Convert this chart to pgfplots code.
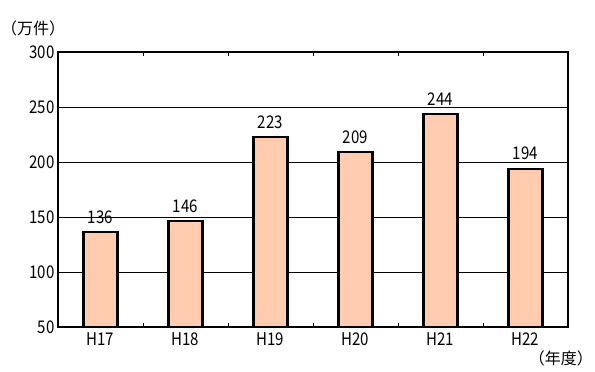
\documentclass[border=0pt]{standalone}
\usepackage{pgfplots}
\pgfplotsset{compat=1.18}
\usepackage{fontspec}
\setmainfont[FakeStretch=0.86]{Noto Sans CJK JP}
\newfontfamily\jpfont{Noto Sans CJK JP}
\definecolor{barfill}{RGB}{255,204,176}
\newcommand{\lblfont}{\fontsize{17.5bp}{19bp}\selectfont}
\begin{document}
\begin{tikzpicture}
\useasboundingbox (-58bp,-45bp) rectangle (537bp,327bp);
\begin{axis}[
  at={(0,0)}, anchor=south west,
  scale only axis,
  width=510bp, height=275bp,
  xmin=-0.5, xmax=5.5,
  ymin=50, ymax=300,
  xtick={0,...,5},
  xticklabels={H17,H18,H19,H20,H21,H22},
  extra x ticks={0.5,1.5,2.5,3.5,4.5},
  extra x tick labels={},
  extra x tick style={major tick length=4bp, tick style={black, line width=0.8pt}, tick align=inside},
  ytick={50,100,...,300},
  major tick length=0pt,
  ymajorgrids,
  grid style={black, line width=0.8pt},
  axis line style={black, line width=2.4pt},
  tick label style={font=\lblfont},
  /pgf/number format/assume math mode=true,
  xticklabel style={yshift=-2bp},
  yticklabel style={xshift=0bp},
  clip=false,
]
\addplot[ybar, bar width=34bp, fill=barfill, draw=black, line width=2.2pt,
  nodes near coords, every node near coord/.style={font=\lblfont, black, yshift=4bp}]
  coordinates {(0,136) (1,146) (2,223) (3,209) (4,244) (5,194)};
\node[anchor=south west, font={\jpfont\fontsize{16bp}{18bp}\selectfont}, inner sep=0pt] at (rel axis cs:0,1) [xshift=-57bp, yshift=16bp] {（万件）};
\node[anchor=north east, font={\jpfont\fontsize{16bp}{18bp}\selectfont}, inner sep=0pt] at (rel axis cs:1,0) [xshift=25bp, yshift=-24bp] {（年度）};
\end{axis}
\end{tikzpicture}
\end{document}
